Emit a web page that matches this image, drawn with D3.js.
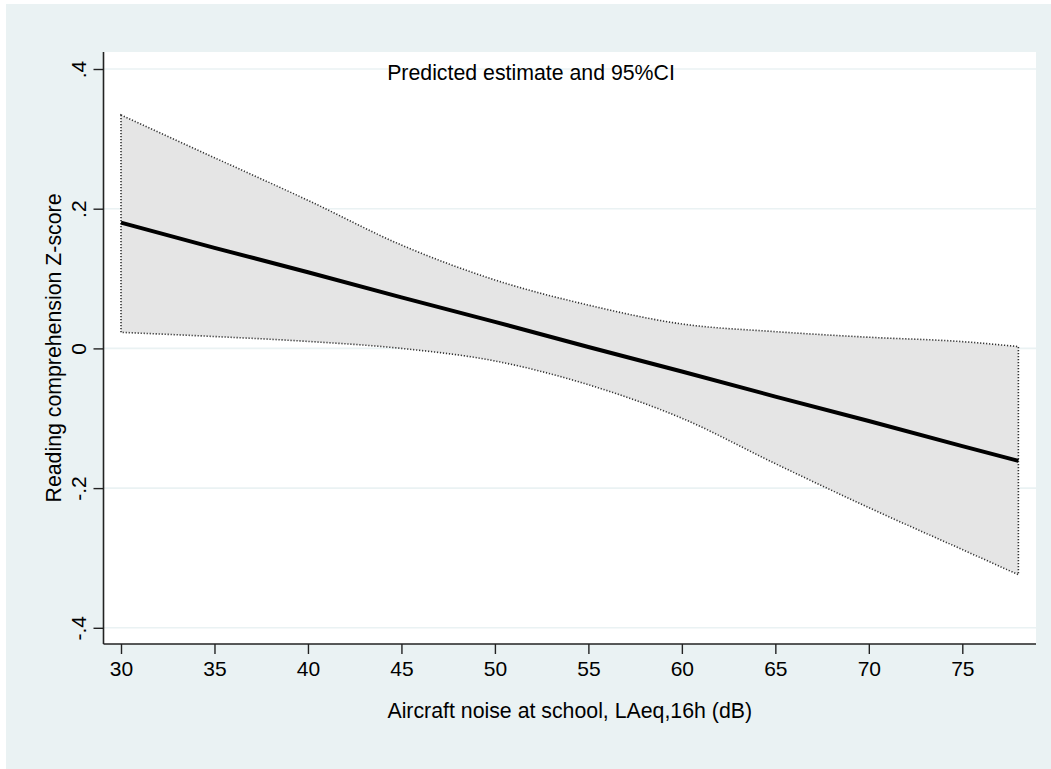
<!DOCTYPE html>
<html>
<head>
<meta charset="utf-8">
<script src="https://cdn.jsdelivr.net/npm/d3@7"></script>
<style>
  body { margin: 0; background: #fff; }
  text { font-family: "Liberation Sans", Arial, sans-serif; fill: #000; }
</style>
</head>
<body>
<svg id="chart" width="1051" height="769"></svg>
<script>
// noise level (dB) and predicted estimate with 95% CI
const noise = [30, 35, 40, 45, 50, 55, 60, 65, 70, 75, 78];
const estimate = [0.180, 0.144, 0.109, 0.073, 0.038, 0.002, -0.033, -0.069, -0.104, -0.140, -0.161];
const upperCI = [0.334, 0.273, 0.212, 0.148, 0.098, 0.062, 0.035, 0.024, 0.016, 0.0097, 0.0026];
const lowerCI = [0.023, 0.017, 0.010, 0.000, -0.018, -0.052, -0.100, -0.165, -0.228, -0.288, -0.324];

const xTicks = [30, 35, 40, 45, 50, 55, 60, 65, 70, 75];
const yTicks = [-0.4, -0.2, 0, 0.2, 0.4];
const yTickLabels = ['-.4', '-.2', '0', '.2', '.4'];

const title = 'Predicted estimate and 95%CI';
const xTitle = 'Aircraft noise at school, LAeq,16h (dB)';
const yTitle = 'Reading comprehension Z-score';

const plot = { left: 103.5, right: 1036, top: 52, bottom: 644 };

const svg = d3.select('#chart');

// outer background
svg.append('rect')
  .attr('x', 6).attr('y', 4)
  .attr('width', 1051 - 6).attr('height', 769 - 4)
  .attr('fill', '#eaf2f3');

svg.append('rect')
  .attr('x', plot.left).attr('y', plot.top)
  .attr('width', plot.right - plot.left).attr('height', plot.bottom - plot.top)
  .attr('fill', '#fff');

let x = d3.scaleLinear().domain([30, 75]).range([121, 962.3]);
let y = d3.scaleLinear().domain([-0.4, 0.4]).range([627.8, 69]);

// grid lines
svg.append('g')
  .selectAll('line')
  .data(yTicks)
  .enter()
  .append('line')
  .attr('x1', plot.left).attr('x2', plot.right)
  .attr('y1', d => y(d)).attr('y2', d => y(d))
  .attr('stroke', '#eaf2f3')
  .attr('stroke-width', 1.6);

// confidence band
const pts = noise.map((n, i) => ({ n: n, lo: lowerCI[i], hi: upperCI[i], est: estimate[i] }));

const area = d3.area()
  .x(d => x(d.n))
  .y0(d => y(d.lo))
  .y1(d => y(d.hi))
  .curve(d3.curveMonotoneX);

svg.append('path')
  .datum(pts)
  .attr('d', area)
  .attr('fill', '#e5e5e5')
  .attr('stroke', '#333')
  .attr('stroke-width', 1.6)
  .attr('stroke-dasharray', '1.2,1.8');

// estimate line
svg.append('path')
  .datum(pts)
  .attr('d', d3.line().x(d => x(d.n)).y(d => y(d.est)))
  .attr('fill', 'none')
  .attr('stroke', '#000')
  .attr('stroke-width', 4);

// axes
const xAxis = svg.append('g')
  .attr('transform', 'translate(0,' + plot.bottom + ')')
  .call(d3.axisBottom(x).tickValues(xTicks).tickSize(10).tickPadding(7).tickSizeOuter(0));

xAxis.select('.domain').remove();
xAxis.append('line')
  .attr('x1', plot.left).attr('x2', plot.right)
  .attr('stroke', '#222').attr('stroke-width', 1.6);
xAxis.selectAll('.tick line').attr('stroke', '#222').attr('stroke-width', 1.4);
xAxis.selectAll('.tick text')
  .attr('font-size', '21px')
  .attr('font-family', '"Liberation Sans", Arial, sans-serif')
  .attr('fill', '#000');

const yAxis = svg.append('g')
  .attr('transform', 'translate(' + plot.left + ',0)')
  .call(d3.axisLeft(y).tickValues(yTicks).tickSize(10).tickSizeOuter(0)
    .tickFormat((d, i) => yTickLabels[i]));

yAxis.select('.domain').remove();
yAxis.append('line')
  .attr('y1', plot.top).attr('y2', plot.bottom)
  .attr('stroke', '#222').attr('stroke-width', 1.6);
yAxis.selectAll('.tick line').attr('stroke', '#222').attr('stroke-width', 1.4);
yAxis.selectAll('.tick text')
  .attr('font-size', '21px')
  .attr('font-family', '"Liberation Sans", Arial, sans-serif')
  .attr('fill', '#000')
  .attr('x', 0).attr('dy', 0)
  .attr('text-anchor', 'middle')
  .attr('transform', 'translate(-18,0) rotate(-90)');

// titles
svg.append('text')
  .attr('x', 531).attr('y', 80)
  .attr('text-anchor', 'middle')
  .attr('font-size', '21.3px')
  .text(title);

svg.append('text')
  .attr('x', (plot.left + plot.right) / 2).attr('y', 718)
  .attr('text-anchor', 'middle')
  .attr('font-size', '21.3px')
  .text(xTitle);

svg.append('text')
  .attr('transform', 'translate(61,' + ((plot.top + plot.bottom) / 2) + ') rotate(-90)')
  .attr('text-anchor', 'middle')
  .attr('font-size', '21.3px')
  .text(yTitle);
</script>
</body>
</html>
